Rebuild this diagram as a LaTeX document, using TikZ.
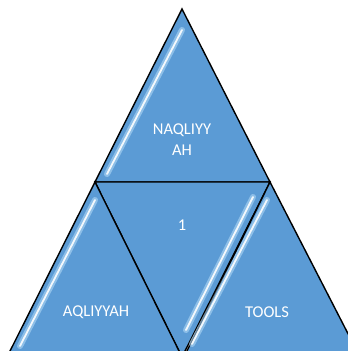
\documentclass[tikz,border=0pt]{standalone}
\usepackage{fontspec}
\setmainfont{Carlito}
\definecolor{triblue}{RGB}{91,155,213}
\definecolor{glowblue}{RGB}{175,215,245}
\tikzset{
  tri/.style={fill=triblue, draw=black, line width=1.4pt, line join=miter},
  glow/.style={draw=glowblue, line width=6pt, line cap=round, opacity=0.6},
  shine/.style={draw=white, line width=1.8pt, line cap=round, opacity=0.9},
  lbl/.style={text=white, font=\fontsize{16.5}{21}\selectfont, align=center}
}
\begin{document}
\begin{tikzpicture}[x=1pt,y=-1pt]
    \useasboundingbox (0,0) rectangle (348,351);
    \clip (0,0) rectangle (348,351);

    \coordinate (apex) at (182,9);
    \coordinate (ml) at (95,182);
    \coordinate (mr) at (270,182);
    \coordinate (bl) at (7,357);
    \coordinate (bm) at (182,357);
    \coordinate (bm2) at (184,357);
    \coordinate (br) at (360,357);

    % the four triangles
    \draw[tri] (apex) -- (mr) -- (ml) -- cycle;
    \draw[tri] (ml) -- (mr) -- (bm) -- cycle;
    \draw[tri] (ml) -- (bm) -- (bl) -- cycle;
    \draw[tri] (mr) -- (br) -- (bm2) -- cycle;

    % glossy stripes
    \draw[glow] (182,30) -- (107,174);
    \draw[shine] (182,30) -- (107,174);
    \draw[glow] (95,200) -- (20,346);
    \draw[shine] (95,200) -- (20,346);
    \draw[glow] (253,197) -- (186,330);
    \draw[shine] (253,197) -- (186,330);
    \draw[glow] (267,200) -- (192,344);
    \draw[shine] (267,200) -- (192,344);

    \node[lbl] (naq) at (182,140) {NAQLIYY\\AH};
    \node[lbl] (one) at (182,225) {1};
    \node[lbl] (aql) at (96,312) {AQLIYYAH};
    \node[lbl] (tools) at (267,312) {TOOLS};
\end{tikzpicture}
\end{document}
